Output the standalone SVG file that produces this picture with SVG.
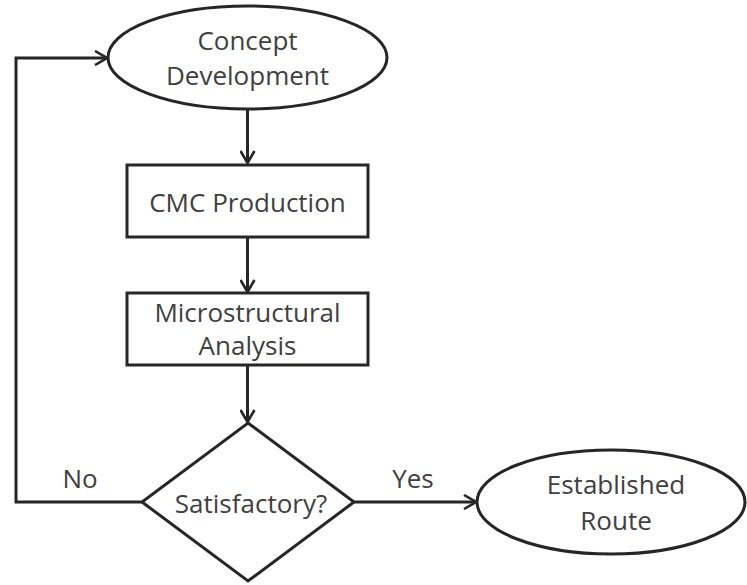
<svg xmlns="http://www.w3.org/2000/svg" width="747" height="585" viewBox="0 0 747 585">
<defs>
<style>
.shape{fill:#fff;stroke:#262626;stroke-width:3}
.line{fill:none;stroke:#262626;stroke-width:3}
text{font-family:"Open Sans","DejaVu Sans",sans-serif;font-size:26px;fill:#404040;text-anchor:middle}
</style>
<marker id="arr" viewBox="0 0 14 16" refX="13" refY="8" markerWidth="14" markerHeight="16" markerUnits="userSpaceOnUse" orient="auto">
<path d="M1,1 L13,8 L1,15" fill="none" stroke="#262626" stroke-width="2.6" stroke-linejoin="miter"/>
</marker>
</defs>
<rect width="747" height="585" fill="#fff"/>
<g id="connectors">
<line class="line" x1="247.5" y1="109" x2="247.5" y2="163" marker-end="url(#arr)"/>
<line class="line" x1="247.5" y1="237" x2="247.5" y2="292" marker-end="url(#arr)"/>
<line class="line" x1="247.5" y1="365" x2="247.5" y2="422" marker-end="url(#arr)"/>
<polyline class="line" points="142,502 16,502 16,58 107,58" marker-end="url(#arr)"/>
<line class="line" x1="354" y1="502" x2="476" y2="502" marker-end="url(#arr)"/>
<text x="80" y="488">No</text>
<text x="413" y="488">Yes</text>
</g>
<g id="concept">
<ellipse class="shape" cx="247.5" cy="57.5" rx="139.5" ry="51.5"/>
<text x="247.5" y="50">Concept</text>
<text x="247.5" y="85">Development</text>
</g>
<g id="cmc">
<rect class="shape" x="127" y="165" width="241" height="72"/>
<text x="247.5" y="212">CMC Production</text>
</g>
<g id="micro">
<rect class="shape" x="127" y="293" width="241" height="72"/>
<text x="247.5" y="322">Microstructural</text>
<text x="247.5" y="355">Analysis</text>
</g>
<g id="decision">
<polygon class="shape" points="248,423 354,502 248,581 142,502"/>
<text x="251" y="513">Satisfactory?</text>
</g>
<g id="established">
<ellipse class="shape" cx="611" cy="502" rx="134" ry="52"/>
<text x="616" y="494">Established</text>
<text x="616" y="530">Route</text>
</g>
</svg>
